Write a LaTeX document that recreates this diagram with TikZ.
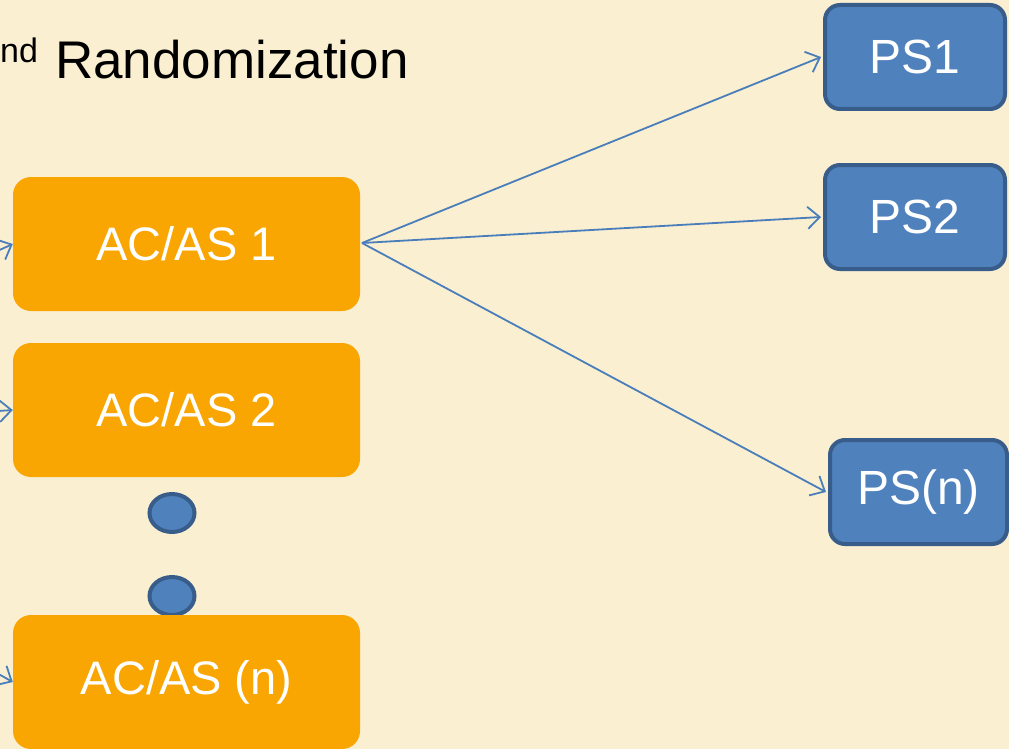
\documentclass[tikz,border=0pt]{standalone}
\usepackage{fontspec}
\setmainfont{Liberation Sans}
\usetikzlibrary{arrows.meta,shapes.geometric}
\definecolor{bgbeige}{RGB}{250,239,208}
\definecolor{accorange}{RGB}{249,165,2}
\definecolor{psblue}{RGB}{79,129,189}
\definecolor{psborder}{RGB}{56,93,138}
\definecolor{linkblue}{RGB}{74,126,187}
\tikzset{
  acbox/.style={rectangle, rounded corners=18pt, fill=accorange, draw=none,
    minimum width=347pt, minimum height=134pt, inner sep=0pt, text=white,
    font=\fontsize{47}{56}\selectfont},
  psbox/.style={rectangle, rounded corners=15pt, fill=psblue, draw=psborder, line width=4pt,
    minimum width=180pt, minimum height=104pt, inner sep=0pt, text=white,
    font=\fontsize{48}{58}\selectfont},
  dotnode/.style={ellipse, fill=psblue, draw=psborder, line width=4pt,
    minimum width=45pt, minimum height=38pt, inner sep=0pt},
  link/.style={draw=linkblue, line width=1.8pt, -{Straight Barb[length=12pt,width=22pt,line width=1.8pt]}}
}
\begin{document}
\begin{tikzpicture}[x=1pt,y=-1pt]
\fill[bgbeige] (0,0) rectangle (1009,749);
\useasboundingbox (0,0) rectangle (1009,749);
\clip (0,0) rectangle (1009,749);
% title (cut at left edge)
\node[anchor=base west, inner sep=0pt, font=\fontsize{34}{40}\selectfont] (sup) at (0,63) {nd};
\node[anchor=base west, inner sep=0pt, font=\fontsize{53}{62}\selectfont] (title) at (55,79) {Randomization};
% dots
\node[dotnode] (d1) at (172,513) {};
\node[dotnode] (d2) at (172,596) {};
% AC/AS boxes
\node[acbox] (ac1) at (186.5,244) {AC/AS 1};
\node[acbox] (ac2) at (186.5,410) {AC/AS 2};
\node[acbox] (acn) at (186.5,682) {AC/AS (n)};
% PS boxes
\node[psbox] (ps1) at (915,57) {PS1};
\node[psbox] (ps2) at (915,217) {PS2};
\node[psbox, minimum width=177pt] (psn) at (918.5,492) {PS(n)};
% incoming arrows from off-picture source
\coordinate (src) at (-420,440);
\draw[link] (src) -- (ac1.west);
\draw[link] (src) -- (ac2.west);
\draw[link] (src) -- (acn.west);
% outgoing arrows
\coordinate (out) at (362,243);
\draw[link] (out) -- ([xshift=-2pt]ps1.west);
\draw[link] (out) -- ([xshift=-2pt]ps2.west);
\draw[link] (out) -- ([xshift=-2pt]psn.west);
\end{tikzpicture}
\end{document}
